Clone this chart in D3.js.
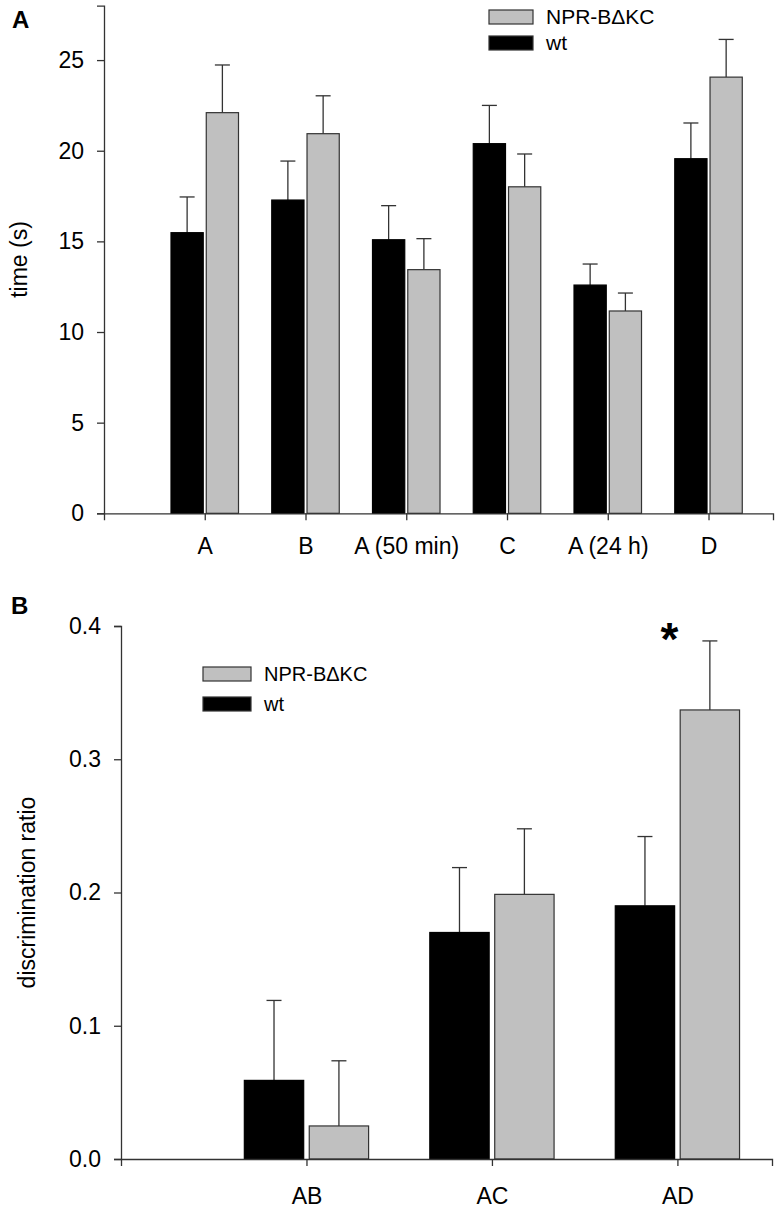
<!DOCTYPE html>
<html>
<head>
<meta charset="utf-8">
<script src="https://cdn.jsdelivr.net/npm/d3@7"></script>
<style>
  body { margin: 0; background: #fff; }
  text { font-family: "Liberation Sans", Arial, sans-serif; fill: #000; }
</style>
</head>
<body>
<div id="my_dataviz"></div>
<script>
// panel A data: time spent exploring (s)
const categoriesA = ["A", "B", "A (50 min)", "C", "A (24 h)", "D"];
const wtTimeA = [15.48, 17.28, 15.09, 20.39, 12.59, 19.56];
const wtErrA = [1.97, 2.15, 1.88, 2.11, 1.16, 1.97];
const nprTimeA = [22.1, 20.94, 13.44, 18.01, 11.16, 24.06];
const nprErrA = [2.63, 2.09, 1.71, 1.81, 0.99, 2.08];
const ticksA = [0, 5, 10, 15, 20, 25];

// panel B data: discrimination ratio
const categoriesB = ["AB", "AC", "AD"];
const wtRatioB = [0.059, 0.17, 0.19];
const wtErrB = [0.06, 0.0487, 0.052];
const nprRatioB = [0.0248, 0.1986, 0.337];
const nprErrB = [0.0489, 0.0492, 0.0518];
const ticksB = [0.0, 0.1, 0.2, 0.3, 0.4];

const seriesNames = ["NPR-B\u0394KC", "wt"];
const colors = { wt: "#000000", npr: "#c0c0c0" };

var svg = d3
  .select("#my_dataviz")
  .append("svg")
  .attr("width", 777)
  .attr("height", 1208);

// draws one bar panel
function drawPanel(opt) {
  let g = svg.append("g");

  let x = d3.scaleLinear().domain(opt.xDomain).range(opt.xRange);
  let y = d3.scaleLinear().domain(opt.yDomain).range(opt.yRange);

  // build rows for the two series
  let rows = [];
  opt.cats.forEach(function(c, i) {
    rows.push({ c: i + 1, v: opt.wt[i], e: opt.wtErr[i], s: "wt" });
    rows.push({ c: i + 1, v: opt.npr[i], e: opt.nprErr[i], s: "npr" });
  });

  function barLeft(d) {
    return d.s == "wt" ? x(d.c - 0.335) : x(d.c + 0.015);
  }
  let barW = x(0.32) - x(0);

  // error bars (upper only) behind the bars
  g.selectAll(".errLine")
    .data(rows)
    .enter()
    .append("line")
    .attr("x1", d => barLeft(d) + barW / 2)
    .attr("x2", d => barLeft(d) + barW / 2)
    .attr("y1", d => y(d.v))
    .attr("y2", d => y(d.v + d.e))
    .attr("stroke", "#333")
    .attr("stroke-width", 1.3);

  g.selectAll(".errCap")
    .data(rows)
    .enter()
    .append("line")
    .attr("x1", d => barLeft(d) + barW / 2 - 7.5)
    .attr("x2", d => barLeft(d) + barW / 2 + 7.5)
    .attr("y1", d => y(d.v + d.e))
    .attr("y2", d => y(d.v + d.e))
    .attr("stroke", "#333")
    .attr("stroke-width", 1.3);

  g.selectAll(".bar")
    .data(rows)
    .enter()
    .append("rect")
    .attr("x", barLeft)
    .attr("width", barW)
    .attr("y", d => y(d.v))
    .attr("height", d => y(0) - y(d.v))
    .attr("fill", d => colors[d.s])
    .attr("stroke", d => (d.s == "wt" ? "#000" : "#333"))
    .attr("stroke-width", 1.2);

  // y axis
  let yAxis = g
    .append("g")
    .attr("transform", "translate(" + opt.xRange[0] + ",0)")
    .call(
      d3.axisLeft(y)
        .tickValues(opt.yTicks)
        .tickFormat(opt.yFormat)
        .tickSizeOuter(0)
        .tickSize(7)
        .tickPadding(13)
    );
  yAxis.selectAll("path, line").attr("stroke", "#333").attr("stroke-width", 1.3);
  yAxis.selectAll("text").style("font-size", "23px").attr("fill", "#000");

  // x axis
  let xAxis = g
    .append("g")
    .attr("transform", "translate(0," + opt.yRange[0] + ")")
    .call(
      d3.axisBottom(x)
        .tickValues(d3.range(1, opt.cats.length + 1))
        .tickFormat(d => opt.cats[d - 1])
        .tickSizeOuter(0)
        .tickSize(7)
        .tickPadding(opt.xPad)
    );
  xAxis.selectAll("path, line").attr("stroke", "#333").attr("stroke-width", 1.3);
  xAxis.selectAll("text").style("font-size", "23px").attr("fill", "#000");

  // y axis title
  g.append("text")
    .attr("transform", "translate(" + opt.titleX + "," + (opt.yRange[0] + opt.yRange[1]) / 2 + ") rotate(-90)")
    .attr("text-anchor", "middle")
    .style("font-size", "23px")
    .text(opt.title);

  // panel letter
  g.append("text")
    .attr("x", opt.letterPos[0])
    .attr("y", opt.letterPos[1])
    .style("font-size", "24px")
    .style("font-weight", "bold")
    .text(opt.letter);

  // legend
  let lg = g.append("g").attr("transform", "translate(" + opt.legend[0] + "," + opt.legend[1] + ")");
  seriesNames.forEach(function(name, i) {
    let key = i == 0 ? "npr" : "wt";
    lg.append("rect")
      .attr("x", 0)
      .attr("y", i * opt.legendStep)
      .attr("width", opt.legendBox)
      .attr("height", 14)
      .attr("fill", colors[key])
      .attr("stroke", "#333")
      .attr("stroke-width", 1.2);
    lg.append("text")
      .attr("x", opt.legendBox + 13)
      .attr("y", i * opt.legendStep + 7)
      .attr("dy", "0.35em")
      .style("font-size", opt.legendFont + "px")
      .text(name);
  });

  return { g: g, x: x, y: y };
}

drawPanel({
  cats: categoriesA,
  wt: wtTimeA,
  wtErr: wtErrA,
  npr: nprTimeA,
  nprErr: nprErrA,
  xDomain: [0, 6.64],
  xRange: [104, 773],
  yDomain: [0, 28],
  yRange: [513.3, 5.7],
  yTicks: ticksA,
  yFormat: d3.format("d"),
  xPad: 17,
  title: "time (s)",
  titleX: 27,
  letter: "A",
  letterPos: [12, 28],
  legend: [489, 10],
  legendStep: 26,
  legendBox: 44,
  legendFont: 21
});

let panelB = drawPanel({
  cats: categoriesB,
  wt: wtRatioB,
  wtErr: wtErrB,
  npr: nprRatioB,
  nprErr: nprErrB,
  xDomain: [0, 3.51],
  xRange: [121, 772],
  yDomain: [0, 0.4],
  yRange: [1159, 626],
  yTicks: ticksB,
  yFormat: d3.format(".1f"),
  xPad: 22,
  title: "discrimination ratio",
  titleX: 35,
  letter: "B",
  letterPos: [11, 614],
  legend: [203, 667],
  legendStep: 30,
  legendBox: 48,
  legendFont: 20
});

// significance marker over AD
panelB.g
  .append("text")
  .attr("x", panelB.x(3) - 8)
  .attr("y", 655)
  .attr("text-anchor", "middle")
  .style("font-size", "46px")
  .style("font-weight", "bold")
  .text("*");
</script>
</body>
</html>
